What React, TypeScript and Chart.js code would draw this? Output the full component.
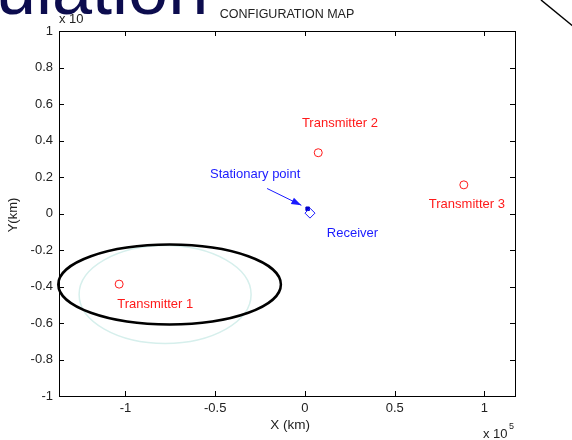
import React, { useEffect, useRef } from 'react';
import { Chart, registerables } from 'chart.js';
Chart.register(...registerables);

// ---- data (x in units of 10^5 km, y in units of 10^4 km as shown) ----
const xTicks = [-1, -0.5, 0, 0.5, 1];
const yTicks = [-1, -0.8, -0.6, -0.4, -0.2, 0, 0.2, 0.4, 0.6, 0.8, 1];
const xLimits = [-1.37, 1.17];
const yLimits = [-1, 1];

const transmitterNames = ['Transmitter 1', 'Transmitter 2', 'Transmitter 3'];
const transmitterX = [-1.035, 0.074, 0.885];
const transmitterY = [-0.387, 0.333, 0.157];
const transmitterLabelX = [-1.046, -0.017, 0.69];
const transmitterLabelY = [-0.499, 0.493, 0.049];

const receiverX = [0.028];
const receiverY = [0.002];
const receiverLabelX = [0.122];
const receiverLabelY = [-0.11];

const stationaryX = [0.015];
const stationaryY = [0.026];
const stationaryLabelX = [-0.529];
const stationaryLabelY = [0.214];
const arrowFrom = [-0.211, 0.137];
const arrowTo = [-0.02, 0.045];

// annotation ellipses: [cx, cy, rx, ry]
const blackEllipse = [-0.754, -0.389, 0.62, 0.219];
const lightEllipse = [-0.779, -0.444, 0.479, 0.268];

const FONT = 'Liberation Sans, Arial, sans-serif';
const RED = '#ff1a1a';
const BLUE = '#1a1aff';

const overlayPlugin = {
  id: 'overlay',
  beforeDatasetsDraw(chart: any) {
    const { ctx, scales } = chart;
    const xs = scales.x, ys = scales.y;
    const [cx, cy, rx, ry] = lightEllipse;
    const px = xs.getPixelForValue(cx), py = ys.getPixelForValue(cy);
    const prx = Math.abs(xs.getPixelForValue(cx + rx) - px);
    const pry = Math.abs(ys.getPixelForValue(cy + ry) - py);
    ctx.save();
    ctx.strokeStyle = '#d6efec';
    ctx.lineWidth = 1.5;
    ctx.beginPath();
    ctx.ellipse(px, py, prx, pry, 0, 0, Math.PI * 2);
    ctx.stroke();
    ctx.restore();
  },
  afterDraw(chart: any) {
    const { ctx, scales, chartArea } = chart;
    const xs = scales.x, ys = scales.y;
    const { left, right, top, bottom } = chartArea;
    ctx.save();
    // frame
    ctx.strokeStyle = '#000';
    ctx.lineWidth = 1;
    ctx.strokeRect(left + 0.5, top + 0.5, right - left, bottom - top);
    // inward ticks
    const tl = 5;
    ctx.beginPath();
    xTicks.forEach((v) => {
      const p = Math.round(xs.getPixelForValue(v)) + 0.5;
      ctx.moveTo(p, bottom); ctx.lineTo(p, bottom - tl);
      ctx.moveTo(p, top); ctx.lineTo(p, top + tl);
    });
    yTicks.forEach((v) => {
      const p = Math.round(ys.getPixelForValue(v)) + 0.5;
      ctx.moveTo(left, p); ctx.lineTo(left + tl, p);
      ctx.moveTo(right, p); ctx.lineTo(right - tl, p);
    });
    ctx.stroke();

    // texts
    ctx.fillStyle = '#222';
    ctx.textBaseline = 'middle';
    ctx.textAlign = 'center';
    ctx.font = `12.5px ${FONT}`;
    ctx.fillText('CONFIGURATION MAP', (left + right) / 2, 15);
    ctx.font = `13.5px ${FONT}`;
    ctx.fillText('X (km)', 290, 425);
    ctx.font = `13px ${FONT}`;
    ctx.save();
    ctx.translate(13, 215);
    ctx.rotate(-Math.PI / 2);
    ctx.fillText('Y(km)', 0, 0);
    ctx.restore();
    ctx.textAlign = 'left';
    ctx.fillText('x 10', 483, 434);
    ctx.fillText('x 10', 59, 19);
    ctx.font = `9px ${FONT}`;
    ctx.fillText('5', 509, 427);

    // data labels
    ctx.font = `13px ${FONT}`;
    ctx.fillStyle = RED;
    transmitterNames.forEach((n, i) => {
      ctx.fillText(n, xs.getPixelForValue(transmitterLabelX[i]), ys.getPixelForValue(transmitterLabelY[i]));
    });
    ctx.fillStyle = BLUE;
    ctx.fillText('Receiver', xs.getPixelForValue(receiverLabelX[0]), ys.getPixelForValue(receiverLabelY[0]));
    ctx.fillText('Stationary point', xs.getPixelForValue(stationaryLabelX[0]), ys.getPixelForValue(stationaryLabelY[0]));

    // arrow
    const ax0 = xs.getPixelForValue(arrowFrom[0]), ay0 = ys.getPixelForValue(arrowFrom[1]);
    const ax1 = xs.getPixelForValue(arrowTo[0]), ay1 = ys.getPixelForValue(arrowTo[1]);
    const ang = Math.atan2(ay1 - ay0, ax1 - ax0);
    ctx.strokeStyle = BLUE;
    ctx.lineWidth = 1;
    ctx.beginPath();
    ctx.moveTo(ax0, ay0);
    ctx.lineTo(ax1, ay1);
    ctx.stroke();
    const hl = 10, hw = 3.5;
    ctx.beginPath();
    ctx.moveTo(ax1, ay1);
    ctx.lineTo(ax1 - hl * Math.cos(ang) + hw * Math.sin(ang), ay1 - hl * Math.sin(ang) - hw * Math.cos(ang));
    ctx.lineTo(ax1 - hl * Math.cos(ang) - hw * Math.sin(ang), ay1 - hl * Math.sin(ang) + hw * Math.cos(ang));
    ctx.closePath();
    ctx.fillStyle = BLUE;
    ctx.fill();

    // black annotation ellipse
    {
      const [cx, cy, rx, ry] = blackEllipse;
      const px = xs.getPixelForValue(cx), py = ys.getPixelForValue(cy);
      const prx = Math.abs(xs.getPixelForValue(cx + rx) - px);
      const pry = Math.abs(ys.getPixelForValue(cy + ry) - py);
      ctx.strokeStyle = '#000';
      ctx.lineWidth = 2.5;
      ctx.beginPath();
      ctx.ellipse(px, py, prx, pry, 0, 0, Math.PI * 2);
      ctx.stroke();
    }

    // slide overlay: heading fragment and diagonal line
    ctx.fillStyle = '#0c0c4e';
    ctx.textBaseline = 'alphabetic';
    ctx.textAlign = 'left';
    ctx.font = `72px ${FONT}`;
    ctx.fillText('ulation', -4, 14);
    ctx.strokeStyle = '#000';
    ctx.lineWidth = 1.5;
    ctx.beginPath();
    ctx.moveTo(541, 0);
    ctx.lineTo(574, 27);
    ctx.stroke();
    ctx.restore();
  },
};

export default function App() {
  const ref = useRef<HTMLCanvasElement>(null);
  useEffect(() => {
    if (!ref.current) return;
    const tickFont = { family: FONT, size: 13 };
    const chart = new Chart(ref.current, {
      type: 'scatter',
      data: {
        datasets: [
          {
            label: 'Transmitters',
            data: transmitterX.map((x, i) => ({ x, y: transmitterY[i] })),
            pointStyle: 'circle',
            pointRadius: 4,
            borderColor: RED,
            backgroundColor: 'rgba(0,0,0,0)',
            borderWidth: 1,
          },
          {
            label: 'Receiver',
            data: receiverX.map((x, i) => ({ x, y: receiverY[i] })),
            pointStyle: 'rectRot',
            pointRadius: 5,
            borderColor: BLUE,
            backgroundColor: 'rgba(0,0,0,0)',
            borderWidth: 1,
          },
          {
            label: 'Stationary point',
            data: stationaryX.map((x, i) => ({ x, y: stationaryY[i] })),
            pointStyle: 'rect',
            pointRadius: 2.5,
            borderColor: '#0000cc',
            backgroundColor: '#0000cc',
            borderWidth: 1,
          },
        ],
      },
      options: {
        animation: false,
        responsive: false,
        maintainAspectRatio: false,
        devicePixelRatio: 1,
        layout: { padding: { top: 31, right: 57, left: 0, bottom: 0 } },
        plugins: { legend: { display: false }, tooltip: { enabled: false }, title: { display: false } },
        scales: {
          x: {
            type: 'linear',
            min: xLimits[0],
            max: xLimits[1],
            grid: { display: false, drawTicks: false },
            border: { display: false },
            ticks: { font: tickFont, color: '#222', padding: 5, maxRotation: 0, autoSkip: false, callback: (v: any) => String(v) },
            afterBuildTicks: (s: any) => { s.ticks = xTicks.map((v) => ({ value: v })); },
            afterFit: (s: any) => { s.height = 44; },
          },
          y: {
            type: 'linear',
            min: yLimits[0],
            max: yLimits[1],
            grid: { display: false, drawTicks: false },
            border: { display: false },
            ticks: { font: tickFont, color: '#222', padding: 6, autoSkip: false, callback: (v: any) => String(v) },
            afterBuildTicks: (s: any) => { s.ticks = yTicks.map((v) => ({ value: v })); },
            afterFit: (s: any) => { s.width = 59; },
          },
        },
      },
      plugins: [overlayPlugin],
    });
    return () => chart.destroy();
  }, []);
  return (
    <div style={{ position: 'fixed', left: 0, top: 0, width: 572, height: 440, background: '#fff' }}>
      <canvas ref={ref} width={572} height={440} style={{ display: 'block' }} />
    </div>
  );
}
